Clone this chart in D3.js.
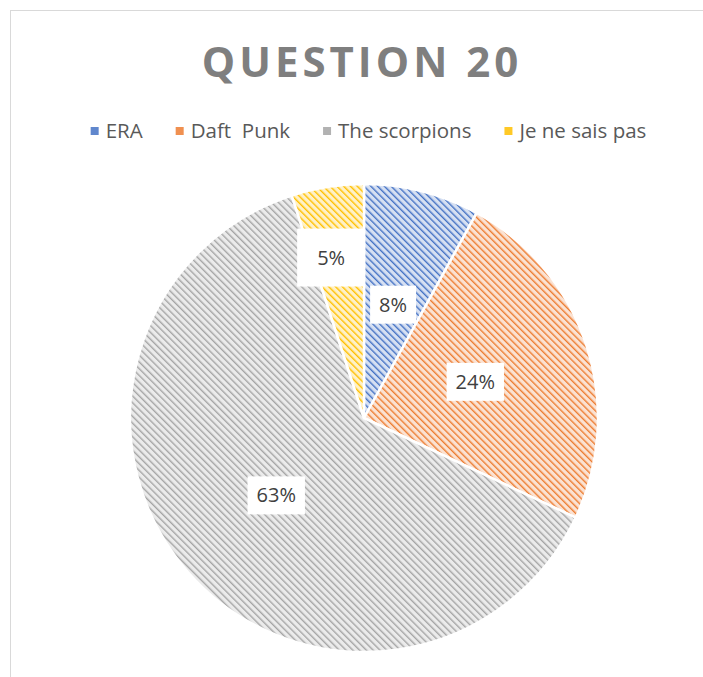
<!DOCTYPE html>
<html>
<head>
<meta charset="utf-8">
<script src="https://cdn.jsdelivr.net/npm/d3@7"></script>
<style>
  html, body { margin: 0; padding: 0; background: #fff; }
  svg { display: block; }
</style>
</head>
<body>
<div id="chart"></div>
<script>
// chart data
const categories = ['ERA', 'Daft  Punk', 'The scorpions', 'Je ne sais pas'];
const shares = [8, 24, 63, 5];
const sliceColors = ['#4472C4', '#ED7D31', '#A5A5A5', '#FFC000'];
const chartTitle = 'QUESTION 20';

const width = 703, height = 677;
const cx = 364, cy = 418, radius = 234;

const svg = d3.select('#chart')
    .append('svg')
    .attr('width', width)
    .attr('height', height);

// outer frame of the chart area (runs past the window on right/bottom)
svg.append('rect')
    .attr('x', 10.5)
    .attr('y', 10.5)
    .attr('width', width + 20)
    .attr('height', height + 20)
    .attr('fill', '#fff')
    .attr('stroke', '#d9d9d9')
    .attr('stroke-width', 1);

// hatched fills, one per slice colour
const defs = svg.append('defs');
sliceColors.forEach((c, i) => {
    const light = d3.interpolateRgb('#fff', c)(0.22);
    const p = defs.append('pattern')
        .attr('id', 'hatch' + i)
        .attr('patternUnits', 'userSpaceOnUse')
        .attr('width', 4.8)
        .attr('height', 4.8)
        .attr('patternTransform', 'rotate(-45)');
    p.append('rect').attr('width', 4.8).attr('height', 4.8).attr('fill', light);
    p.append('rect').attr('width', 1.4).attr('height', 4.8).attr('fill', c);
});

// title
svg.append('text')
    .attr('x', 362)
    .attr('y', 77)
    .attr('text-anchor', 'middle')
    .style('font-family', '"Open Sans", sans-serif')
    .style('font-weight', 700)
    .style('font-size', '42px')
    .style('letter-spacing', '4px')
    .attr('fill', '#7f7f7f')
    .text(chartTitle);

// legend, centred as a row
const legend = svg.append('g').attr('class', 'legend');
const items = legend.selectAll('g')
    .data(categories)
    .join('g');
items.append('rect')
    .attr('width', 8)
    .attr('height', 8)
    .attr('y', -4)
    .attr('fill', (d, i) => sliceColors[i])
    .attr('fill-opacity', 0.85);
items.append('text')
    .attr('x', 15)
    .attr('dy', '0.35em')
    .attr('xml:space', 'preserve')
    .style('white-space', 'pre')
    .style('font-family', '"Open Sans", sans-serif')
    .style('font-size', '20.5px')
    .attr('fill', '#595959')
    .text(d => d);

let lx = 0;
const offsets = [];
items.each(function () {
    offsets.push(lx);
    lx += 15 + this.querySelector('text').getComputedTextLength() + 33;
});
const legendWidth = lx - 33;
items.attr('transform', (d, i) => `translate(${offsets[i]},0)`);
legend.attr('transform', `translate(${(89 + 648) / 2 - legendWidth / 2},131)`);

// pie
const pie = d3.pie().sort(null).value(d => d);
const arcs = pie(shares);
const arc = d3.arc().innerRadius(0).outerRadius(radius);

const g = svg.append('g').attr('transform', `translate(${cx},${cy})`);

g.selectAll('.slice')
    .data(arcs)
    .join('path')
    .attr('class', 'slice')
    .attr('d', arc)
    .attr('fill', (d, i) => `url(#hatch${i})`)
    .attr('stroke', '#fff')
    .attr('stroke-width', 2.5)
    .attr('stroke-linejoin', 'round');

// data labels in white boxes; the thin slice gets its label pushed outward
const total = d3.sum(shares);
const labels = g.selectAll('.label')
    .data(arcs)
    .join('g')
    .attr('class', 'label')
    .attr('transform', d => {
        const small = d.value / total < 0.06;
        const r = small ? radius * 0.7 : radius * 0.5;
        const a = small ? (d.startAngle + d.endAngle) / 2 - 0.045 : (d.startAngle + d.endAngle) / 2;
        return `translate(${r * Math.sin(a)},${-r * Math.cos(a)})`;
    });

labels.append('text')
    .attr('text-anchor', 'middle')
    .attr('dy', '0.35em')
    .style('font-family', '"Open Sans", sans-serif')
    .style('font-size', '20px')
    .attr('fill', '#404040')
    .text(d => d.value + '%');

labels.insert('rect', 'text')
    .each(function (d) {
        const t = this.parentNode.querySelector('text').getBBox();
        const small = d.value / total < 0.06;
        const padX = small ? 20 : 9, padY = small ? 29 : 19;
        d3.select(this)
            .attr('x', t.x - padX)
            .attr('y', -padY)
            .attr('width', t.width + padX * 2)
            .attr('height', padY * 2)
            .attr('fill', '#fff');
    });
</script>
</body>
</html>
